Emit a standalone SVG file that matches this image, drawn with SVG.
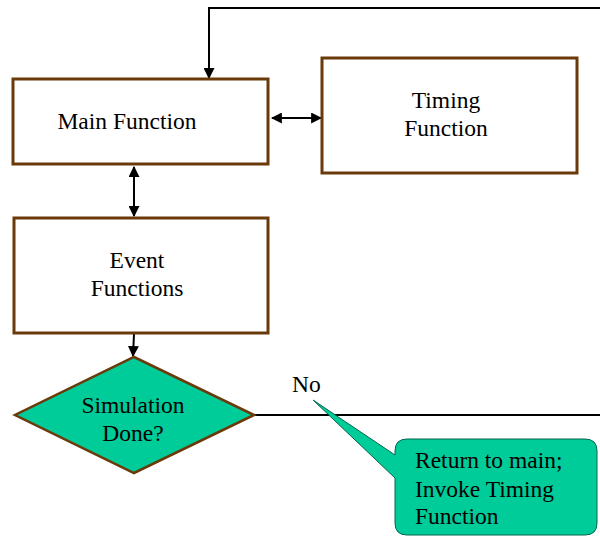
<svg xmlns="http://www.w3.org/2000/svg" width="600" height="536" viewBox="0 0 600 536">
<style>
.box{fill:#fff;stroke:#6b3a0b;stroke-width:3}
.t{font-family:'Liberation Serif','Times New Roman','DejaVu Serif',serif;font-size:23.5px;fill:#000}
.c{text-anchor:middle}
.ln{stroke:#000;stroke-width:2;fill:none}
</style>
<defs>
<marker id="ah" viewBox="0 0 10 10" refX="9" refY="5" markerWidth="5.5" markerHeight="5.5" orient="auto-start-reverse" markerUnits="strokeWidth">
<path d="M0,0 L10,5 L0,10 z" fill="#000"/>
</marker>
</defs>
<rect width="600" height="536" fill="#fff"/>
<g id="connectors">
<path class="ln" d="M600,8 H209 V78" marker-end="url(#ah)"/>
<path class="ln" d="M272,118 H321" marker-start="url(#ah)" marker-end="url(#ah)"/>
<path class="ln" d="M134,167 V216" marker-start="url(#ah)" marker-end="url(#ah)"/>
<path class="ln" d="M134,334 L133,356" marker-end="url(#ah)"/>
<path class="ln" d="M254,415 H600"/>
</g>
<g id="main">
<rect class="box" x="13" y="79" width="255" height="85"/>
<text class="t c" x="127" y="129">Main Function</text>
</g>
<g id="timing">
<rect class="box" x="322" y="58" width="255" height="115"/>
<text class="t c" x="446" y="108">Timing</text>
<text class="t c" x="446" y="136">Function</text>
</g>
<g id="event">
<rect class="box" x="14" y="218" width="254" height="115"/>
<text class="t c" x="137" y="268">Event</text>
<text class="t c" x="137" y="296">Functions</text>
</g>
<g id="decision">
<polygon points="134,357 254,415 134,473 15,415" fill="#00cc99" stroke="#6b3a0b" stroke-width="2.5"/>
<text class="t c" x="133" y="413">Simulation</text>
<text class="t c" x="133" y="441">Done?</text>
</g>
<g id="no-label">
<text class="t" x="292" y="392">No</text>
</g>
<g id="callout">
<path d="M407,439 H585 Q597,439 597,451 V523 Q597,535 585,535 H407 Q395,535 395,523 V478 L313,400 L395,455 V451 Q395,439 407,439 Z" fill="#00cc99" stroke="#00664d" stroke-width="1"/>
<text class="t" x="415" y="468">Return to main;</text>
<text class="t" x="415" y="497">Invoke Timing</text>
<text class="t" x="415" y="524">Function</text>
</g>
</svg>
